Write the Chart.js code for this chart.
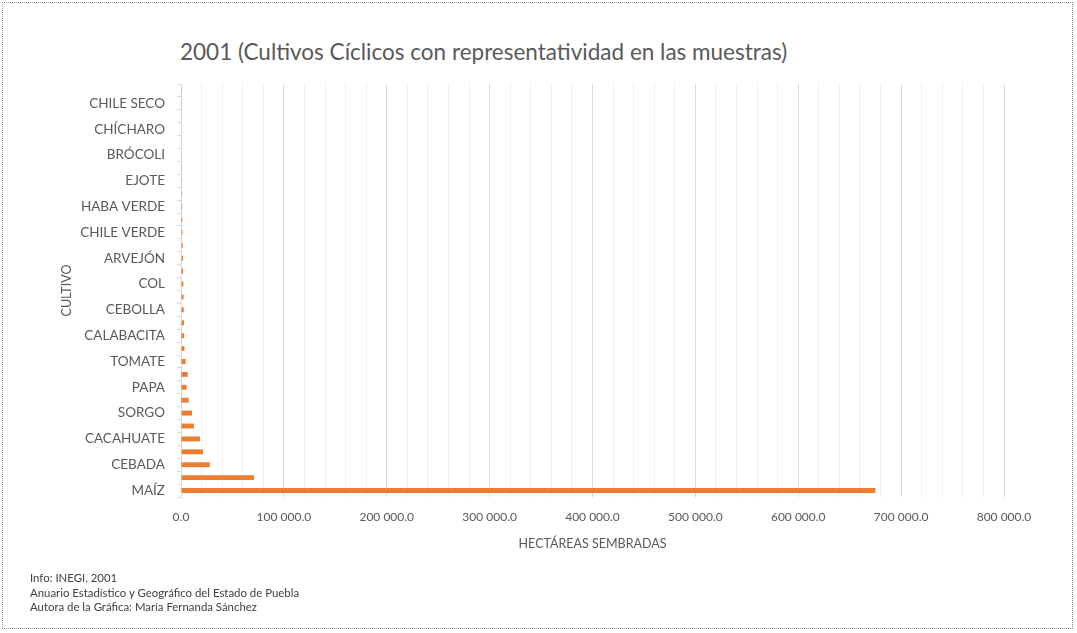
<!DOCTYPE html>
<html>
<head>
<meta charset="utf-8">
<script src="https://cdn.jsdelivr.net/npm/chart.js@4/dist/chart.umd.min.js"></script>
<style>
  html, body { margin: 0; padding: 0; background: #fff; }
  #wrap { position: relative; width: 1077px; height: 633px; font-family: Lato, "Open Sans", sans-serif; }
  #frame { position: absolute; left: 2px; top: 2px; width: 1071px; height: 627px; border: 1px dotted #8c8c8c; box-sizing: border-box; }
  #title { position: absolute; left: 180px; top: 38px; font-size: 22.5px; color: #595959; white-space: nowrap; }
  #notes { position: absolute; left: 30px; top: 571px; font-size: 11.4px; line-height: 14.5px; color: #404040; }
  canvas { position: absolute; left: 0; top: 0; }
</style>
</head>
<body>
<div id="wrap">
  <div id="frame"></div>
  <div id="title">2001 (Cultivos Cíclicos con representatividad en las muestras)</div>
  <canvas id="chart" width="1077" height="633"></canvas>
  <div id="notes">
    Info: INEGI, 2001<br>
    Anuario Estadístico y Geográfico del Estado de Puebla<br>
    Autora de la Gráfica: María Fernanda Sánchez
  </div>
</div>
<script>
// categories top to bottom; every other label is hidden in the original
var cultivos = [
  '', 'CHILE SECO', '', 'CHÍCHARO', '', 'BRÓCOLI', '', 'EJOTE', '',
  'HABA VERDE', '', 'CHILE VERDE', '', 'ARVEJÓN', '', 'COL', '',
  'CEBOLLA', '', 'CALABACITA', '', 'TOMATE', '', 'PAPA', '',
  'SORGO', '', 'CACAHUATE', '', 'CEBADA', '', 'MAÍZ'
];
var hectareas = [
  200, 300, 400, 500, 600, 700, 800, 900, 1000,
  1100, 1300, 1500, 1700, 1900, 2100, 2300, 2500,
  2700, 2900, 3100, 3300, 4500, 6500, 5500, 7500,
  10700, 12600, 18400, 21400, 28000, 71000, 675000
];
var xTicks = [0, 100000, 200000, 300000, 400000, 500000, 600000, 700000, 800000];

function fmt(v) {
  return String(v).replace(/\B(?=(\d{3})+(?!\d))/g, ' ') + '.0';
}

new Chart(document.getElementById('chart'), {
  type: 'bar',
  data: {
    labels: cultivos,
    datasets: [{ data: hectareas, backgroundColor: '#ed7d31', barPercentage: 0.38, categoryPercentage: 1 }]
  },
  options: {
    indexAxis: 'y',
    responsive: false,
    animation: false,
    layout: { padding: { left: 55, top: 84, right: 73, bottom: 76 } },
    plugins: { legend: { display: false }, tooltip: { enabled: false } },
    scales: {
      x: {
        min: 0,
        max: xTicks[xTicks.length - 1],
        afterFit: function (s) { s.height = 60; },
        ticks: {
          stepSize: 20000,
          color: '#595959',
          font: { family: 'Lato', size: 12 },
          maxRotation: 0,
          autoSkip: false,
          padding: 13,
          callback: function (v) { return xTicks.indexOf(v) >= 0 ? fmt(v) : ''; }
        },
        grid: {
          drawTicks: false,
          color: function (c) { return c.tick && c.tick.value % 100000 === 0 ? '#d9d9d9' : '#f0f0f0'; }
        },
        border: { display: false },
        title: { display: true, text: 'HECTÁREAS SEMBRADAS', color: '#595959', font: { family: 'Lato', size: 12.5 }, padding: { top: 0, bottom: 6 } }
      },
      y: {
        afterFit: function (s) { s.width = 126; },
        ticks: { color: '#595959', font: { family: 'Lato', size: 13.5 }, autoSkip: false, padding: 12 },
        grid: { color: 'rgba(0,0,0,0)', tickColor: '#d9d9d9', tickLength: 4 },
        border: { display: true, color: '#d9d9d9' },
        title: { display: true, text: 'CULTIVO', color: '#595959', font: { family: 'Lato', size: 12.5 } }
      }
    }
  }
});
</script>
</body>
</html>
